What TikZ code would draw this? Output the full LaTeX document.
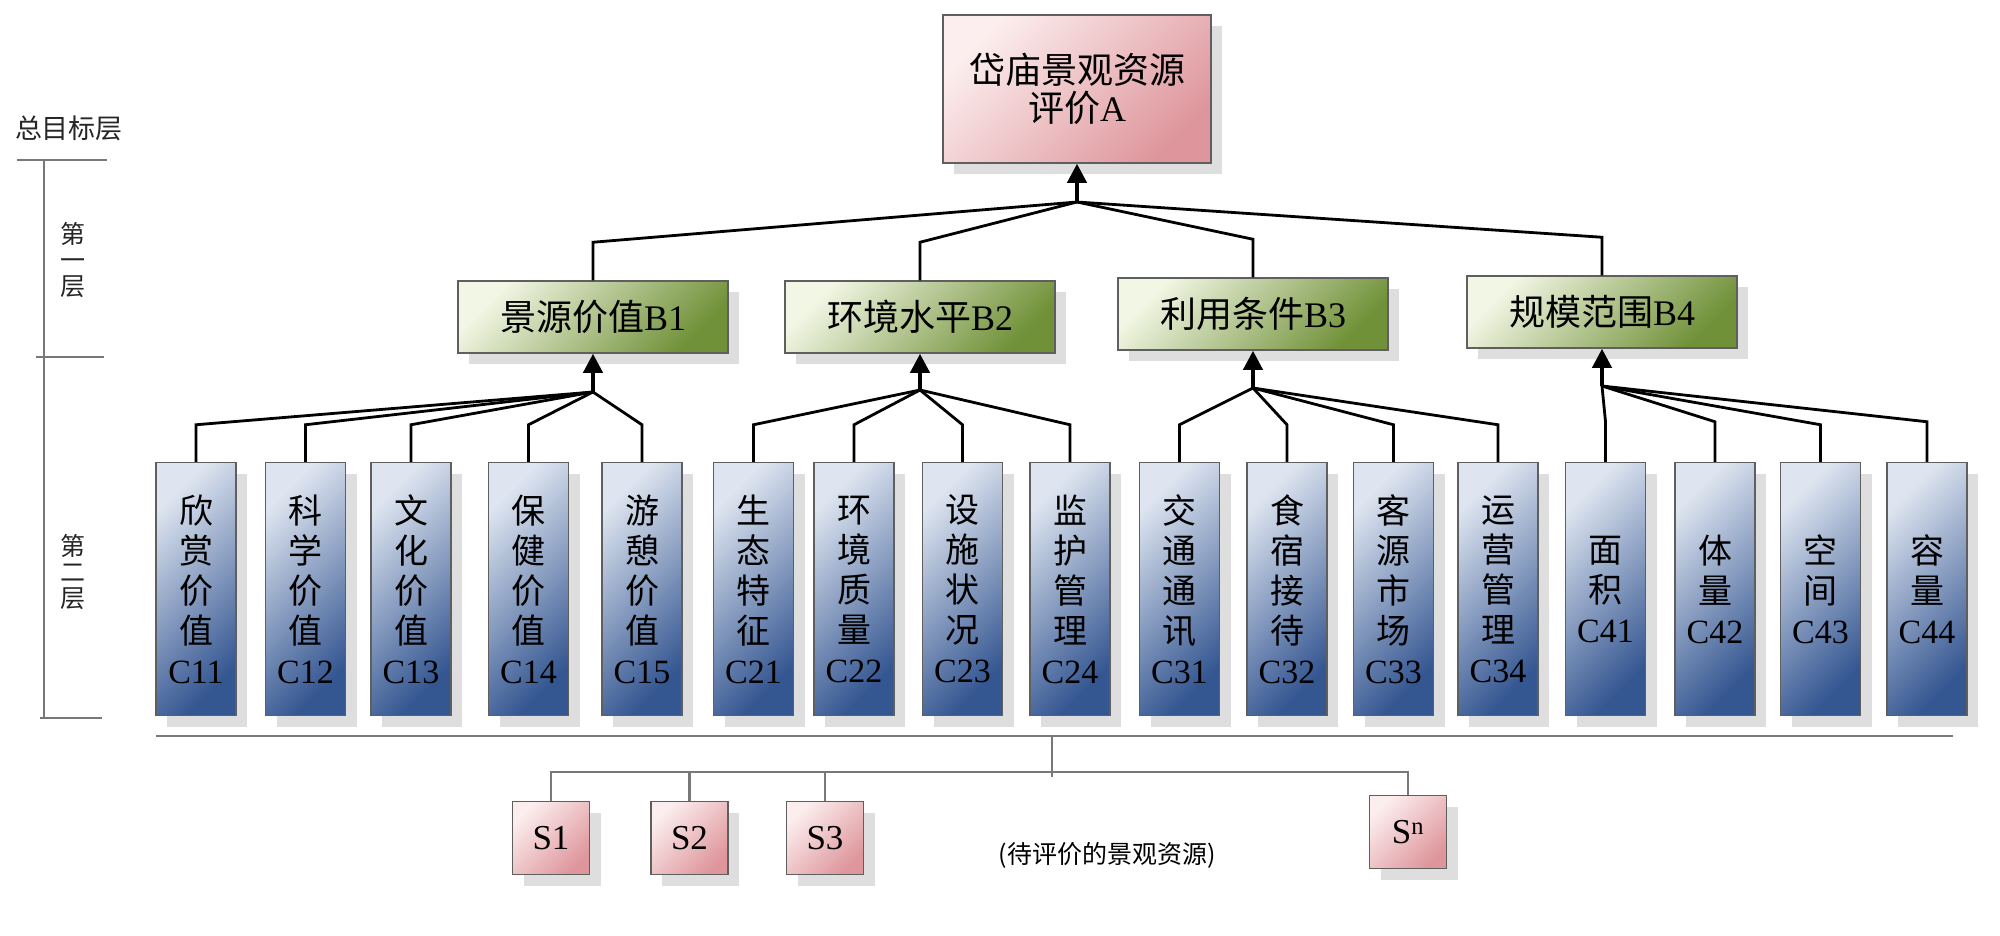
\documentclass[tikz,border=0pt]{standalone}
\usepackage{fontspec}
\setmainfont{Liberation Serif}
\newfontfamily\zhfont{Noto Sans CJK SC}
\usepackage{tikz}
\usetikzlibrary{arrows.meta,positioning,shadows}
\definecolor{goalcolor}{RGB}{222,150,156}
\definecolor{goallight}{RGB}{252,238,238}
\definecolor{critcolor}{RGB}{112,145,56}
\definecolor{critlight}{RGB}{242,246,228}
\definecolor{indcolor}{RGB}{52,86,145}
\definecolor{indlight}{RGB}{222,229,240}
\definecolor{framecolor}{RGB}{95,95,95}
\definecolor{rulecolor}{RGB}{120,120,120}

\begin{document}
\begin{tikzpicture}[
    x=1pt, y=-1pt,
    every node/.style={inner sep=0pt},
    boxshadow/.style={drop shadow={shadow xshift=11pt, shadow yshift=-11pt, fill=black!13, opacity=1}},
    goal/.style={rectangle, draw=framecolor, line width=1.5pt, boxshadow, top color=goallight, bottom color=goalcolor, shading angle=45, minimum width=268pt, minimum height=148pt, align=center, font=\zhfont\fontsize{36}{38}\selectfont},
    crit/.style={rectangle, draw=framecolor, line width=1.5pt, boxshadow, top color=critlight, bottom color=critcolor, shading angle=45, minimum width=270pt, minimum height=72pt, font=\zhfont\fontsize{36}{40}\selectfont},
    ind/.style={rectangle, draw=framecolor, line width=1.5pt, boxshadow, top color=indlight, bottom color=indcolor, shading angle=45, minimum width=80pt, minimum height=253pt, align=center, font=\zhfont\fontsize{34}{40}\selectfont},
    alt/.style={rectangle, draw=framecolor, line width=1.5pt, boxshadow, top color=goallight, bottom color=goalcolor, shading angle=45, minimum width=77pt, minimum height=73pt, font=\fontsize{35}{40}\selectfont},
    layer/.style={align=center, text=black!85, font=\zhfont\fontsize{25}{26}\selectfont},
    link/.style={line width=2.8pt, draw=black},
    arrow/.style={line width=4pt, -{Triangle[length=19pt, width=19pt]}},
    rule/.style={line width=2.6pt, draw=rulecolor}
]
    \useasboundingbox (0,0) rectangle (2000,935);

    % Layer scale
    \node[layer, font=\zhfont\fontsize{27}{30}\selectfont] (toplayer) at (69,128) {总目标层};
    \node[layer] (layer1) at (73,260) {第\\一\\层};
    \node[layer] (layer2) at (73,572) {第\\二\\层};
    \draw[rule] (17,160) -- (107,160);
    \draw[rule] (44,160) -- (44,718);
    \draw[rule] (36,357) -- (104,357);
    \draw[rule] (40,718) -- (102,718);

    % Nodes
    \node[goal] (a) at (1077,89) {岱庙景观资源\\评价\textrm{A}};

    \node[crit] (b1) at (593,317) {景源价值\textrm{B1}};
    \node[crit] (b2) at (920,317) {环境水平\textrm{B2}};
    \node[crit] (b3) at (1253,314) {利用条件\textrm{B3}};
    \node[crit] (b4) at (1602,312) {规模范围\textrm{B4}};

    \node[ind] (c11) at (196,589) {欣\\赏\\价\\值\\\textrm{C11}};
    \node[ind, right=28pt of c11] (c12) {科\\学\\价\\值\\\textrm{C12}};
    \node[ind, right=24pt of c12] (c13) {文\\化\\价\\值\\\textrm{C13}};
    \node[ind, right=36pt of c13] (c14) {保\\健\\价\\值\\\textrm{C14}};
    \node[ind, right=32pt of c14] (c15) {游\\憩\\价\\值\\\textrm{C15}};
    \node[ind, right=30pt of c15] (c21) {生\\态\\特\\征\\\textrm{C21}};
    \node[ind, right=19pt of c21] (c22) {环\\境\\质\\量\\\textrm{C22}};
    \node[ind, right=27pt of c22] (c23) {设\\施\\状\\况\\\textrm{C23}};
    \node[ind, right=26pt of c23] (c24) {监\\护\\管\\理\\\textrm{C24}};
    \node[ind, right=28pt of c24] (c31) {交\\通\\通\\讯\\\textrm{C31}};
    \node[ind, right=26pt of c31] (c32) {食\\宿\\接\\待\\\textrm{C32}};
    \node[ind, right=25pt of c32] (c33) {客\\源\\市\\场\\\textrm{C33}};
    \node[ind, right=23pt of c33] (c34) {运\\营\\管\\理\\\textrm{C34}};
    \node[ind, right=26pt of c34] (c41) {面\\积\\\textrm{C41}};
    \node[ind, right=28pt of c41] (c42) {体\\量\\\textrm{C42}};
    \node[ind, right=24pt of c42] (c43) {空\\间\\\textrm{C43}};
    \node[ind, right=25pt of c43] (c44) {容\\量\\\textrm{C44}};

    \node[alt] (s1) at (551,838) {S1};
    \node[alt, right=60pt of s1] (s2) {S2};
    \node[alt, right=57pt of s2] (s3) {S3};
    \node[alt] (sn) at (1408,832) {S\textsuperscript{n}};
    \node[font=\zhfont\fontsize{25}{28}\selectfont] (pool) at (1107,855) {(待评价的景观资源)};

    % Junctions
    \coordinate (j0) at (1077,202);
    \coordinate (j1) at (593,392);
    \coordinate (j2) at (920,390);
    \coordinate (j3) at (1253,388);
    \coordinate (j4) at (1602,386);
    \coordinate (baseL) at (156,736);
    \coordinate (baseR) at (1953,736);
    \coordinate (hub) at (1052,736);
    \coordinate (sbar) at (1052,772);

    % Edges
    \draw[link] (b1.north) -- ++(0,-38) -- (j0);
    \draw[link] (b2.north) -- ++(0,-38) -- (j0);
    \draw[link] (b3.north) -- ++(0,-38) -- (j0);
    \draw[link] (b4.north) -- ++(0,-38) -- (j0);
    \draw[arrow] (j0) -- (a.south);

    \draw[link] (c11.north) -- ++(0,-37) -- (j1);
    \draw[link] (c12.north) -- ++(0,-37) -- (j1);
    \draw[link] (c13.north) -- ++(0,-37) -- (j1);
    \draw[link] (c14.north) -- ++(0,-37) -- (j1);
    \draw[link] (c15.north) -- ++(0,-37) -- (j1);
    \draw[arrow] (j1) -- (b1.south);

    \draw[link] (c21.north) -- ++(0,-37) -- (j2);
    \draw[link] (c22.north) -- ++(0,-37) -- (j2);
    \draw[link] (c23.north) -- ++(0,-37) -- (j2);
    \draw[link] (c24.north) -- ++(0,-37) -- (j2);
    \draw[arrow] (j2) -- (b2.south);

    \draw[link] (c31.north) -- ++(0,-37) -- (j3);
    \draw[link] (c32.north) -- ++(0,-37) -- (j3);
    \draw[link] (c33.north) -- ++(0,-37) -- (j3);
    \draw[link] (c34.north) -- ++(0,-37) -- (j3);
    \draw[arrow] (j3) -- (b3.south);

    \draw[link] (c41.north) -- ++(0,-40) -- (j4);
    \draw[link] (c42.north) -- ++(0,-40) -- (j4);
    \draw[link] (c43.north) -- ++(0,-37) -- (j4);
    \draw[link] (c44.north) -- ++(0,-40) -- (j4);
    \draw[arrow] (j4) -- (b4.south);

    \draw[rule] (baseL) -- (baseR);
    \draw[rule] (hub) -- ++(0,41);
    \draw[rule] (s1.north) |- (sbar) -| (sn.north);
    \draw[rule] (s2.north) -- (s2.north |- sbar);
    \draw[rule] (s3.north) -- (s3.north |- sbar);
\end{tikzpicture}
\end{document}
